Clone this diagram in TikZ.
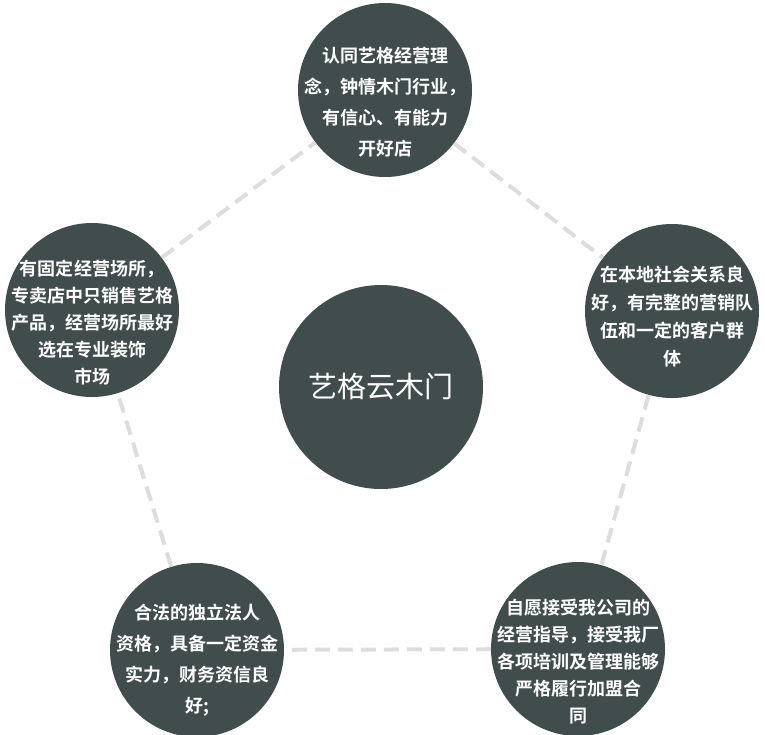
\documentclass[tikz,border=0pt]{standalone}
\usepackage{fontspec}
\setmainfont{Noto Sans CJK SC}[BoldFont={Noto Sans CJK SC Bold}]
\definecolor{ballgray}{HTML}{414D4C}
\definecolor{dashgray}{HTML}{DDDDDD}

\begin{document}
\begin{tikzpicture}[x=1pt,y=-1pt,
  ball/.style={circle,fill=ballgray,minimum size=174pt,inner sep=0pt},
  note/.style={text=white,inner sep=0pt,align=center,font=\bfseries\fontsize{18}{31}\selectfont},
  link/.style={draw=dashgray,line width=4pt,dash pattern=on 15pt off 8pt}]
\useasboundingbox (0,0) rectangle (765,734);

\node[ball,minimum size=204pt] (brand) at (381,387) {};
\node[note,font=\fontsize{29}{34}\selectfont] (brandtext) at (brand) {艺格云木门};

% outer circles
\node[ball] (idea) at (385,90) {};
\node[ball] (social) at (672,311) {};
\node[ball] (shop) at (92,310) {};
\node[ball] (legal) at (197,650) {};
\node[ball] (train) at (578,649) {};

\node[note] (ideatext) at ([yshift=-12pt]idea) {认同艺格经营理\\念，钟情木门行业，\\有信心、有能力\\开好店};
\node[note,font=\bfseries\fontsize{18}{28}\selectfont] (socialtext) at ([yshift=-6pt]social) {在本地社会关系良\\好，有完整的营销队\\伍和一定的客户群\\体};
\node[note,font=\bfseries\fontsize{18}{27}\selectfont] (shoptext) at ([yshift=-13pt]shop) {有固定经营场所，\\专卖店中只销售艺格\\产品，经营场所最好\\选在专业装饰\\市场};
\node[note] (legaltext) at ([yshift=-10pt]legal) {合法的独立法人\\资格，具备一定资金\\实力，财务资信良\\好;};
\node[note,font=\bfseries\fontsize{18}{27}\selectfont] (traintext) at ([yshift=-13pt]train) {自愿接受我公司的\\经营指导，接受我厂\\各项培训及管理能够\\严格履行加盟合\\同};

\draw[link] (shop) -- (idea);
\draw[link] (idea) -- (social);
\draw[link] (social) -- (train);
\draw[link] (train) -- (legal);
\draw[link] (legal) -- (shop);
\end{tikzpicture}
\end{document}
